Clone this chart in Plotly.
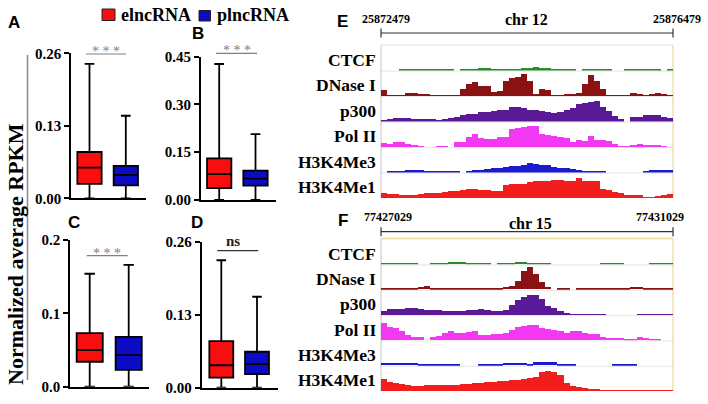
import plotly.graph_objects as go

W, H = 708, 404
SERIF = "Liberation Serif"
SANS = "Liberation Sans"

# ---------------- box-plot data (panels A-D) ----------------
panels = ["A", "B", "C", "D"]
elnc_lower = [0.0, 0.0, 0.0, 0.0]
elnc_q1 = [0.026, 0.037, 0.034, 0.018]
elnc_median = [0.055, 0.081, 0.050, 0.040]
elnc_q3 = [0.083, 0.131, 0.073, 0.083]
elnc_upper = [0.241, 0.427, 0.154, 0.227]
plnc_lower = [0.0, 0.0, 0.0, 0.0]
plnc_q1 = [0.023, 0.045, 0.023, 0.024]
plnc_median = [0.042, 0.067, 0.043, 0.042]
plnc_q3 = [0.058, 0.092, 0.068, 0.064]
plnc_upper = [0.148, 0.207, 0.166, 0.162]
y_max = [0.26, 0.45, 0.20, 0.26]
tick_vals = [[0, 0.13, 0.26], [0, 0.15, 0.30, 0.45], [0, 0.1, 0.2], [0, 0.13, 0.26]]
tick_text = [["0.00", "0.13", "0.26"], ["0.00", "0.15", "0.30", "0.45"],
             ["0.0", "0.1", "0.2"], ["0.00", "0.13", "0.26"]]
significance = ["***", "***", "***", "ns"]
series_names = ["elncRNA", "plncRNA"]

# ---------------- genome tracks (panels E, F) ----------------
track_names = ["CTCF", "DNase I", "p300", "Pol II", "H3K4Me3", "H3K4Me1"]
e_chrom, e_start, e_end = "chr 12", 25872479, 25876479
f_chrom, f_start, f_end = "chr 15", 77427029, 77431029
N_BINS = 48
N = None

e_ctcf = [N, N, N, .05, .05, .05, .05, .05, .05, .05, .05, .05,
          N, .05, .06, .07, .09, .09, .07, .06, .06, .06, .07, .09,
          .10, .12, .10, .09, .07, .06, .06, .05, N, .05, .05, .05,
          .05, .05, N, N, .05, .05, .05, .05, .05, .05, N, .05]
e_dnase = [.26, .04, .04, .05, .12, .12, .10, .10, .05, .04, .07, .03,
           .03, .30, .50, .55, .42, .40, .18, .20, .62, .72, .78, .88,
           .60, .10, .30, .25, .06, .05, .08, .10, .12, .50, .85, .62,
           .30, .05, .04, .04, .05, .12, .10, .03, .08, .12, .08, .04]
e_p300 = [.06, .08, .12, .14, .14, .10, .10, .10, .08, .06, .10, .14,
          .16, .24, .30, .31, .37, .37, .42, .44, .47, .56, .58, .51,
          .47, .45, .40, .36, .35, .36, .44, .54, .70, .72, .78, .80,
          .55, .42, .22, .08, N, .16, .18, .25, .26, .26, .18, .13]
e_pol2 = [.18, .15, .20, .20, .13, .10, .06, N, N, .07, .07, N,
          .22, .22, .40, .52, .36, .32, .32, .42, .42, .72, .78, .80,
          .84, .84, .52, .48, .45, .40, .38, .20, .28, .24, .45, .29,
          .29, .27, .12, .05, .05, .10, .12, .10, .10, .08, .05, N]
e_h3k4me3 = [N, .07, .07, .07, .10, .10, .08, .07, .05, .05, .05, .05,
             .05, N, .07, .08, .10, .12, .16, .18, .20, .24, .26, .30,
             .38, .32, .30, .28, .22, .18, .17, .14, .10, .06, .05, .05,
             .05, N, N, N, N, N, N, .05, .10, .10, .10, .10]
e_h3k4me1 = [.23, .18, .17, .13, .13, .15, .17, .22, .23, .23, .26, .30,
             .31, .32, .36, .36, .33, .33, .28, .28, .53, .55, .57, .57,
             .65, .67, .67, .68, .73, .73, .70, .67, .80, .70, .69, .69,
             .36, .33, .24, .22, .14, .13, .12, .04, .04, .10, .12, .16]

f_ctcf = [.05, .05, .05, .05, .05, .05, N, N, .05, .05, .06, .08,
          .08, .08, .06, .05, .05, .05, N, .05, .05, .06, .08, .08,
          .06, .05, .05, .05, N, N, N, N, N, N, N, N,
          .05, .05, .05, .05, N, N, N, N, .05, .05, .05, .05]
f_dnase = [.04, .04, .04, .04, .04, .04, .09, .12, .04, .03, .03, .04,
           .04, .04, .04, .04, .04, .03, .03, .04, .08, .15, .35, .72,
           .88, .60, .30, .08, N, .03, .03, N, .03, .03, .03, .03,
           .03, .04, .03, .04, .05, .10, .10, .05, .03, .03, .03, .03]
f_p300 = [.18, .26, .26, .26, .28, .30, .24, .22, .19, .19, .17, .17,
          .17, .18, .19, .20, .24, .22, .18, .18, .22, .40, .60, .72,
          .79, .79, .65, .37, .28, .18, .08, .06, .05, .05, .04, .04,
          .04, N, N, N, N, N, .04, .04, .04, .04, .04, .04]
f_pol2 = [.67, .53, .50, .35, .20, .14, .14, N, .14, .18, .30, .36,
          .30, .29, .32, .36, .22, .20, .24, .26, .30, .42, .53, .56,
          .60, .60, .50, .46, .40, .36, .30, .36, .36, .30, .26, .26,
          .12, .11, .11, .11, .07, .07, .12, .08, .07, .07, N, N]
f_h3k4me3 = [.10, .10, .10, .09, .08, .10, .07, .05, .05, .05, .05, .05,
             .04, N, N, N, .04, .04, .05, .06, .10, .11, .11, .11,
             .07, .12, .14, .15, .14, .07, .05, .04, N, N, N, N,
             N, N, .04, .04, .04, .04, N, N, N, N, N, N]
f_h3k4me1 = [.49, .38, .32, .30, .24, .22, .22, .23, .24, .24, .25, .25,
             .26, .28, .30, .32, .34, .35, .37, .40, .41, .43, .45, .47,
             .52, .56, .77, .82, .77, .66, .32, .22, .18, .12, .08, .08,
             .07, .06, .04, .04, .03, .02, .02, .02, .03, .05, .02, .02]

track_colors = ["#2a8a2a", "#8b1212", "#5a1a98", "#f238f2", "#1a1acf", "#f21e1e"]
RED, BLUE = "#f70f0f", "#0c0cc4"


def px(x):
    return x / W


def py(y):
    return 1 - y / H


def names(i):
    s = "" if i == 1 else str(i)
    return "xaxis" + s, "yaxis" + s, "x" + s, "y" + s


def bfont(family, size, color="black"):
    return dict(family=family, size=size, color=color, weight="bold")


fig = go.Figure()
layout_axes = {}
shapes = []
annotations = []

# panel geometry in pixels: axis x, red centre, blue centre, x end, y of zero, y of top
geom = {
    "A": (71.3, 89.5, 125.8, 145.8, 198.3, 53.3),
    "B": (201.0, 219.2, 255.5, 275.5, 200.0, 56.7),
    "C": (70.2, 89.7, 128.7, 149.0, 386.7, 240.0),
    "D": (201.7, 221.3, 257.0, 278.0, 387.7, 241.7),
}
ax_i = 0
for k, p in enumerate(panels):
    ax_i += 1
    xa, ya, xr, yr = names(ax_i)
    axx, rc, bc, endx, y0, yt = geom[p]
    unit = bc - rc
    layout_axes[xa] = dict(domain=[px(axx), px(endx)],
                           range=[-(rc - axx) / unit, 1 + (endx - bc) / unit],
                           showline=True, linecolor="black", linewidth=2,
                           showticklabels=False, ticks="", showgrid=False,
                           zeroline=False, anchor=yr, fixedrange=True, automargin=False)
    layout_axes[ya] = dict(domain=[py(y0), py(yt)], range=[0, y_max[k]],
                           tickvals=tick_vals[k], ticktext=tick_text[k],
                           ticks="outside", ticklen=5, tickwidth=2, tickcolor="black",
                           showline=True, linecolor="black", linewidth=2,
                           showgrid=False, zeroline=False, anchor=xr, fixedrange=True,
                           automargin=False, tickfont=bfont(SERIF, 15))
    for j, (lo, q1, md, q3, up, col) in enumerate([
            (elnc_lower, elnc_q1, elnc_median, elnc_q3, elnc_upper, RED),
            (plnc_lower, plnc_q1, plnc_median, plnc_q3, plnc_upper, BLUE)]):
        fig.add_trace(go.Box(x=[j], q1=[q1[k]], median=[md[k]], q3=[q3[k]],
                             lowerfence=[lo[k]], upperfence=[up[k]],
                             fillcolor=col, line=dict(color="black", width=1.8),
                             width=0.67, whiskerwidth=0.4, boxpoints=False,
                             xaxis=xr, yaxis=yr, showlegend=False, hoverinfo="skip",
                             name=series_names[j]))

# significance bars
sig_geom = {"A": (86, 126, 54, 106, 47), "B": (216, 257, 53.3, 236.5, 46.5),
            "C": (86.7, 127.7, 255.7, 107, 249.5), "D": (217.3, 258.3, 250.7, 233, 241)}
for k, p in enumerate(panels):
    x0, x1, yl, xt, ytx = sig_geom[p]
    col = "#333333" if significance[k] == "ns" else "#808080"
    shapes.append(dict(type="line", xref="paper", yref="paper", x0=px(x0), x1=px(x1),
                       y0=py(yl), y1=py(yl), line=dict(color=col, width=1.2)))
    if significance[k] == "ns":
        annotations.append(dict(text="ns", x=px(xt), y=py(ytx), xref="paper", yref="paper",
                                showarrow=False, xanchor="center", yanchor="middle",
                                font=bfont(SERIF, 15, "#222")))
    else:
        annotations.append(dict(text="* * *", x=px(xt), y=py(ytx + 4), xref="paper", yref="paper",
                                showarrow=False, xanchor="center", yanchor="middle",
                                font=dict(family=SERIF, size=14, color="#808080")))

# genome tracks
e_tracks = [e_ctcf, e_dnase, e_p300, e_pol2, e_h3k4me3, e_h3k4me1]
f_tracks = [f_ctcf, f_dnase, f_p300, f_pol2, f_h3k4me3, f_h3k4me1]
TX0, TX1 = 381, 673
e_bounds = [45, 70.5, 96, 121.5, 147, 172.5, 198]
f_bounds = [239, 264.3, 289.7, 315, 340.3, 365.7, 391]

for tracks, bounds, start, end in [(e_tracks, e_bounds, e_start, e_end),
                                   (f_tracks, f_bounds, f_start, f_end)]:
    step = (end - start) / N_BINS
    xs = [start + (b + 0.5) * step for b in range(N_BINS)]
    for t in range(6):
        ax_i += 1
        xa, ya, xr, yr = names(ax_i)
        layout_axes[xa] = dict(domain=[px(TX0), px(TX1)], range=[start, end],
                               visible=False, anchor=yr, fixedrange=True, automargin=False)
        layout_axes[ya] = dict(domain=[py(bounds[t + 1]), py(bounds[t])], range=[0, 1],
                               visible=False, anchor=xr, fixedrange=True, automargin=False)
        fig.add_trace(go.Bar(x=xs, y=tracks[t], width=step,
                             marker=dict(color=track_colors[t], line=dict(width=0)),
                             xaxis=xr, yaxis=yr, showlegend=False, hoverinfo="skip"))
        yc = (bounds[t] + bounds[t + 1]) / 2 + 2
        annotations.append(dict(text=track_names[t], x=px(378), y=py(yc),
                                xref="paper", yref="paper", showarrow=False,
                                xanchor="right", yanchor="middle",
                                font=bfont(SERIF, 17.5)))
        if t > 0:
            shapes.append(dict(type="line", xref="paper", yref="paper", x0=px(TX0), x1=px(TX1),
                               y0=py(bounds[t] + 0.6), y1=py(bounds[t] + 0.6), layer="below",
                               line=dict(color="#e6e6e6", width=1)))
    shapes.append(dict(type="line", xref="paper", yref="paper", x0=px(TX0), x1=px(TX0),
                       y0=py(bounds[0]), y1=py(bounds[-1]), layer="below",
                       line=dict(color="#c4c4c4", width=1)))
    shapes.append(dict(type="line", xref="paper", yref="paper", x0=px(TX1), x1=px(TX1),
                       y0=py(bounds[0]), y1=py(bounds[-1]), layer="below",
                       line=dict(color="#eee3a8", width=1.5)))

shapes.append(dict(type="line", xref="paper", yref="paper", x0=px(TX0), x1=px(TX1),
                   y0=py(e_bounds[0]), y1=py(e_bounds[0]), layer="below",
                   line=dict(color="#dedede", width=1)))
shapes.append(dict(type="line", xref="paper", yref="paper", x0=px(TX0), x1=px(TX1),
                   y0=py(f_bounds[0] - 0.5), y1=py(f_bounds[0] - 0.5), layer="below",
                   line=dict(color="#eee3a8", width=2)))

# rulers
for (yline, lx, rx, ynum, ychr, cx, chrom, start, end) in [
        (33, 386.5, 676.5, 19, 19, 526, e_chrom, e_start, e_end),
        (231.7, 387.5, 659.5, 217, 223, 530, f_chrom, f_start, f_end)]:
    shapes.append(dict(type="line", xref="paper", yref="paper", x0=px(TX0), x1=px(TX1),
                       y0=py(yline), y1=py(yline), line=dict(color="#333", width=1.2)))
    for xx in (TX0, TX1):
        shapes.append(dict(type="line", xref="paper", yref="paper", x0=px(xx), x1=px(xx),
                           y0=py(yline - 4.5), y1=py(yline + 4.5), line=dict(color="#333", width=1.2)))
    annotations.append(dict(text=str(start), x=px(lx), y=py(ynum), xref="paper", yref="paper",
                            showarrow=False, xanchor="center", yanchor="middle",
                            font=bfont(SERIF, 12)))
    annotations.append(dict(text=str(end), x=px(rx), y=py(ynum), xref="paper", yref="paper",
                            showarrow=False, xanchor="center", yanchor="middle",
                            font=bfont(SERIF, 12)))
    annotations.append(dict(text=chrom, x=px(cx), y=py(ychr), xref="paper", yref="paper",
                            showarrow=False, xanchor="center", yanchor="middle",
                            font=bfont(SERIF, 16)))

# panel letters
letters = {"A": (14, 22.5), "B": (197.5, 34), "C": (74, 222.5), "D": (197, 222.5),
           "E": (342.5, 21), "F": (343, 220)}
for L, (x, y) in letters.items():
    annotations.append(dict(text=L, x=px(x), y=py(y), xref="paper", yref="paper",
                            showarrow=False, xanchor="center", yanchor="middle",
                            font=bfont(SANS, 17)))

# y title and bracket line
annotations.append(dict(text="Normalized average RPKM", x=px(15.5), y=py(254.5),
                        xref="paper", yref="paper", showarrow=False, textangle=-90,
                        xanchor="center", yanchor="middle",
                        font=bfont(SERIF, 22)))
shapes.append(dict(type="line", xref="paper", yref="paper", x0=px(27.5), x1=px(27.5),
                   y0=py(55), y1=py(380), line=dict(color="#8a8a8a", width=1.5)))

# legend
for (x0, y0, x1, y1, col, tx, name) in [(102, 9, 115, 20.5, RED, 119, series_names[0]),
                                        (199, 10.5, 210.5, 21, BLUE, 215, series_names[1])]:
    shapes.append(dict(type="rect", xref="paper", yref="paper", x0=px(x0), x1=px(x1),
                       y0=py(y1), y1=py(y0), fillcolor=col, line=dict(color="#222", width=1)))
    annotations.append(dict(text=name, x=px(tx), y=py(15), xref="paper", yref="paper",
                            showarrow=False, xanchor="left", yanchor="middle",
                            font=bfont(SERIF, 18)))

fig.update_layout(width=W, height=H, margin=dict(l=0, r=0, t=0, b=0, pad=0, autoexpand=False),
                  autosize=False,
                  paper_bgcolor="white", plot_bgcolor="rgba(0,0,0,0)",
                  showlegend=False, barmode="overlay", bargap=0,
                  shapes=shapes, annotations=annotations, **layout_axes)
fig.write_html("out.html", config={"displayModeBar": False},
               post_script="document.body.style.margin='0px';document.body.style.padding='0px';")
